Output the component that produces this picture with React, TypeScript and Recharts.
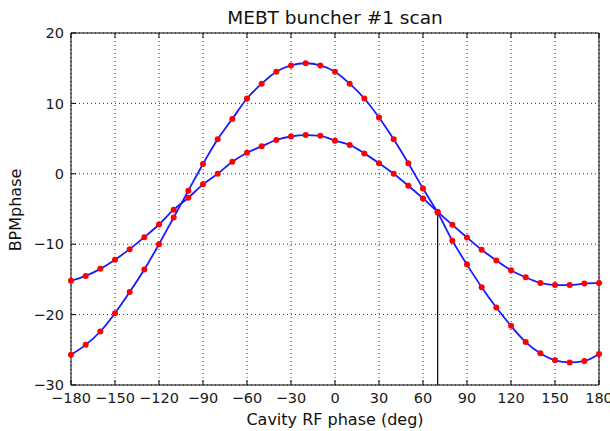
import React from 'react';
import { LineChart, Line, XAxis, YAxis, CartesianGrid, ReferenceLine } from 'recharts';

const phases = [-180, -170, -160, -150, -140, -130, -120, -110, -100, -90, -80, -70, -60, -50, -40, -30, -20, -10, 0, 10, 20, 30, 40, 50, 60, 70, 80, 90, 100, 110, 120, 130, 140, 150, 160, 170, 180];
const scanLarge = [-25.7, -24.3, -22.4, -19.8, -16.8, -13.6, -10.0, -6.2, -2.4, 1.4, 4.9, 7.8, 10.7, 12.8, 14.5, 15.4, 15.7, 15.4, 14.5, 12.8, 10.7, 8.0, 4.9, 1.5, -2.1, -5.5, -9.5, -12.9, -16.1, -19.0, -21.6, -23.9, -25.5, -26.5, -26.8, -26.6, -25.6];
const scanSmall = [-15.2, -14.5, -13.5, -12.2, -10.7, -9.0, -7.2, -5.1, -3.4, -1.5, 0.0, 1.7, 3.0, 3.9, 4.8, 5.3, 5.5, 5.4, 4.7, 4.1, 2.9, 1.5, 0.0, -1.7, -3.5, -5.4, -7.25, -9.05, -10.8, -12.3, -13.7, -14.7, -15.5, -15.8, -15.8, -15.6, -15.5];
const xTicks = [-180, -150, -120, -90, -60, -30, 0, 30, 60, 90, 120, 150, 180];
const yTicks = [-30, -20, -10, 0, 10, 20];
const markerPhase = 70;
const markerTop = -5.6;
const markerBottom = -30;

const data = phases.map((p, i) => ({ x: p, large: scanLarge[i], small: scanSmall[i] }));

const FONT = 'DejaVu Sans';
const fmt = (v: number) => String(v).replace('-', '\u2212');
const tickStyle = { fill: '#1a1a1a', fontSize: 14.5, fontFamily: FONT };

export default function App() {
  return (
    <div style={{ position: 'absolute', left: 0, top: 0, width: 610, height: 431, background: '#fff' }}>
      <LineChart width={610} height={431} data={data} margin={{ top: 32, right: 10, left: 0, bottom: 0 }}>
        <CartesianGrid xAxisId="b" yAxisId="l" stroke="#333" strokeDasharray="1 3" />
        <XAxis xAxisId="b" dataKey="x" type="number" domain={[-180, 180]} ticks={xTicks} interval={0}
          height={46} tickSize={-5} tickMargin={13} tickFormatter={fmt}
          axisLine={{ stroke: '#000' }} tickLine={{ stroke: '#000' }} tick={tickStyle} />
        <XAxis xAxisId="t" orientation="top" dataKey="x" type="number" domain={[-180, 180]} ticks={xTicks} interval={0}
          height={1} tickSize={-5} tickFormatter={() => ''}
          axisLine={{ stroke: '#000' }} tickLine={{ stroke: '#000' }} />
        <YAxis yAxisId="l" type="number" domain={[-30, 20]} ticks={yTicks} interval={0}
          width={71} tickSize={-5} tickMargin={12} tickFormatter={fmt}
          axisLine={{ stroke: '#000' }} tickLine={{ stroke: '#000' }} tick={tickStyle} />
        <YAxis yAxisId="r" orientation="right" type="number" domain={[-30, 20]} ticks={yTicks} interval={0}
          width={1} tickSize={-5} tickFormatter={() => ''}
          axisLine={{ stroke: '#000' }} tickLine={{ stroke: '#000' }} />
        <ReferenceLine xAxisId="b" yAxisId="l" segment={[{ x: markerPhase, y: markerTop }, { x: markerPhase, y: markerBottom }]}
          stroke="#000" strokeWidth={1.2} />
        <Line xAxisId="b" yAxisId="l" type="monotone" dataKey="large" stroke="#1a1aff" strokeWidth={1.8}
          dot={{ r: 3, fill: '#ff0000', stroke: 'none' }} isAnimationActive={false} />
        <Line xAxisId="b" yAxisId="l" type="monotone" dataKey="small" stroke="#1a1aff" strokeWidth={1.8}
          dot={{ r: 3, fill: '#ff0000', stroke: 'none' }} isAnimationActive={false} />
      </LineChart>
      <svg width={610} height={431} style={{ position: 'absolute', left: 0, top: 0, pointerEvents: 'none' }}>
        <text x={335} y={24} textAnchor="middle" fontFamily={FONT} fontSize={18.5} fill="#111">MEBT buncher #1 scan</text>
        <text x={335} y={425} textAnchor="middle" fontFamily={FONT} fontSize={16} fill="#111">Cavity RF phase (deg)</text>
        <text x={21} y={210} textAnchor="middle" fontFamily={FONT} fontSize={16} fill="#111" transform="rotate(-90 21 210)">BPMphase</text>
      </svg>
    </div>
  );
}
